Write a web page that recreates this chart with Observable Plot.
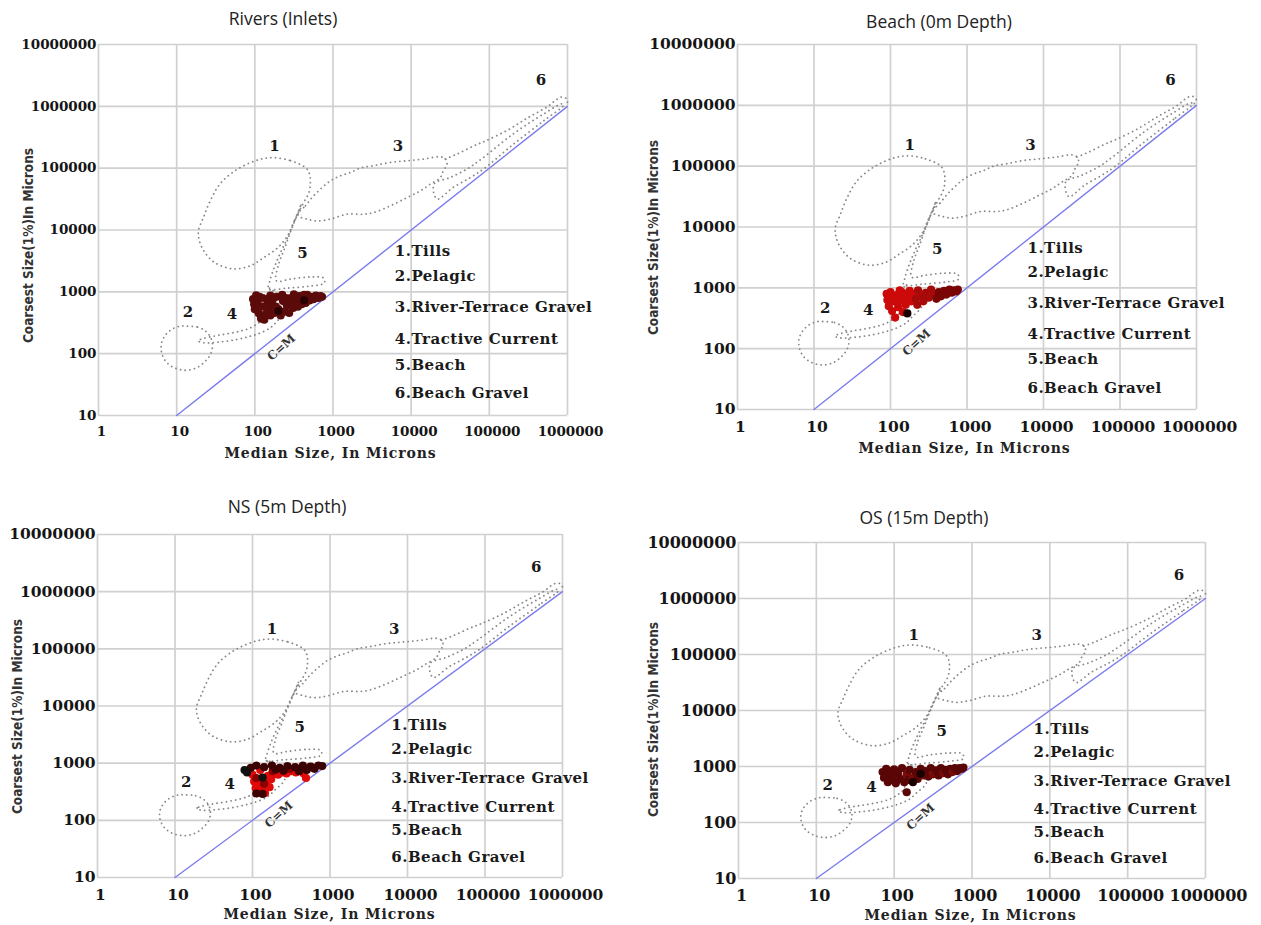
<!DOCTYPE html>
<html><head><meta charset="utf-8">
<script src="https://cdn.jsdelivr.net/npm/d3@7"></script>
<script src="https://cdn.jsdelivr.net/npm/@observablehq/plot@0.6"></script>
<style>
body{margin:0;background:#fff;}
#root{position:relative;width:1261px;height:925px;overflow:hidden;background:#fff;}
.ptitle{position:absolute;font-family:"Open Sans",sans-serif;font-size:17.5px;color:#222;white-space:nowrap;transform:translate(-50%,-50%);}
</style></head><body><div id="root"></div>
<script>
// ---------- data ----------
const xTicks = [1, 10, 100, 1000, 10000, 100000, 1000000];
const yTicks = [10, 100, 1000, 10000, 100000, 1000000, 10000000];
const panelTitles = ["Rivers (Inlets)", "Beach (0m Depth)", "NS (5m Depth)", "OS (15m Depth)"];
const xLabel = "Median Size, In Microns";
const yLabel = "Coarsest Size(1%)In Microns";
const legendNames = ["1.Tills", "2.Pelagic", "3.River-Terrace Gravel", "4.Tractive Current", "5.Beach", "6.Beach Gravel"];
const legendX = 6170;
const legendY = [4570, 1780, 556, 170, 66, 22.6];
const fieldIds = ["1", "2", "3", "4", "5", "6"];
const fieldLabelX = [178, 14, 6760, 51, 407, 457000];
const fieldLabelY = [224000, 468, 224000, 427, 4270, 2630000];
const cmLine = [[10, 10], [1000000, 1000000]];
const cmLabel = [219, 126];

// C-M field outlines (median, coarsest)
const tillsField = [[174,148000],[286,132000],[446,102000],[500,81000],[513,56000],[486,39000],[419,27500],[361,19000],[312,13200],[261,8000],[194,5100],[129,3550],[88,2650],[53,2350],[31,2950],[23,4300],[19.5,6700],[19,9700],[22,16000],[27,30000],[36,56000],[56,91000],[88,123000],[125,142000]];
const pelagicField = [[13.3,279],[18.5,269],[23.4,232],[27.1,185],[28.7,137],[27.1,98],[22.6,73],[17.4,58],[12.6,54],[9.1,60],[7.2,76],[6.4,106],[6.4,148],[7.2,200],[8.8,250],[11.2,279]];
const riverTerraceField = [[364,19100],[444,24600],[540,33500],[690,45800],[927,62500],[1245,75300],[1670,85200],[2240,100400],[3290,109400],[5420,123700],[8870,131800],[14300,140400],[23600,153000],[27400,142000],[28800,116400],[25800,90800],[23600,70600],[17600,55200],[13100,43000],[8870,33500],[5420,24600],[3290,19100],[2450,18000],[1510,18000],[927,15000],[626,14000],[467,15000],[361,16900]];
const tractiveField = [[19,160],[20.2,170],[29.8,192],[44.2,209],[65.5,232],[87.9,262],[112,316],[130,380],[144,552],[151,802],[154,1150],[220,700],[260,520],[193,336],[158,262],[118,217],[87.9,192],[59.4,170],[36.3,155],[22.2,150]];
const beachField = [[394,26500],[321,14000],[261,7440],[212,4250],[178,2520],[154,1440],[149,1110],[261,1150],[514,1240],[776,1390],[754,1680],[514,1740],[285,1610],[189,1500],[200,2720],[239,4940],[285,9300],[340,16300]];
const beachGravelField = [[891000,1050000],[501000,589000],[200000,240000],[85100,97700],[57500,70800],[34700,49000],[21400,31600],[19500,55000],[31600,70800],[52500,97700],[79400,141000],[200000,355000],[501000,759000],[851000,1100000]];
const gravelUpperEdge = [[27400,141000],[38900,170000],[63100,229000],[89100,275000],[174000,417000],[316000,661000],[562000,1000000],[708000,1260000],[832000,1410000],[955000,1350000],[1000000,1170000],[933000,1070000]];

// sample points: [median, coarsest, shade]
const riversPoints = [[95,760,"d"],[98,630,"d"],[100,525,"d"],[107,710,"d"],[112,450,"d"],[120,370,"d"],[126,575,"d"],[132,355,"d"],[138,435,"d"],[145,760,"d"],[151,500,"d"],[115,830,"d"],[126,795,"d"],[158,870,"d"],[141,600,"d"],[112,600,"d"],[158,415,"d"],[166,630,"d"],[178,455,"d"],[190,830,"d"],[200,525,"d"],[214,415,"d"],[229,710,"d"],[240,480,"d"],[257,600,"d"],[275,455,"d"],[288,795,"d"],[309,550,"d"],[331,690,"d"],[355,575,"d"],[372,850,"d"],[186,575,"d"],[224,890,"d"],[251,795,"d"],[282,660,"d"],[316,910,"d"],[398,630,"d"],[417,760,"d"],[447,660,"d"],[468,890,"d"],[501,725,"d"],[525,830,"d"],[562,760,"d"],[603,870,"d"],[646,795,"d"],[692,850,"d"],[724,830,"d"],[427,890,"d"],[380,725,"d"],[104,880,"d"],[170,760,"d"],[262,700,"d"],[340,800,"d"],[200,490,"k"],[427,725,"k"]];
const beachPoints = [[89,795,"r"],[91,630,"r"],[95,500,"r"],[100,850,"r"],[105,415,"r"],[110,600,"r"],[115,325,"r"],[120,760,"r"],[126,480,"r"],[132,910,"r"],[138,630,"r"],[145,400,"r"],[151,795,"r"],[158,525,"r"],[166,710,"r"],[178,890,"r"],[186,600,"r"],[200,795,"r"],[107,725,"r"],[123,575,"r"],[98,700,"r"],[140,850,"r"],[170,620,"r"],[214,660,"m"],[229,910,"m"],[251,725,"m"],[269,600,"m"],[288,830,"m"],[316,690,"m"],[339,935,"m"],[363,760,"m"],[224,525,"m"],[398,660,"d"],[427,850,"d"],[457,725,"d"],[501,890,"d"],[537,775,"d"],[589,935,"d"],[631,830,"d"],[676,910,"d"],[724,870,"d"],[759,935,"d"],[166,380,"k"]];
const nsPoints = [[100,630,"r"],[105,480,"r"],[110,365,"r"],[115,300,"r"],[120,415,"r"],[126,315,"r"],[132,500,"r"],[138,380,"r"],[145,300,"r"],[151,455,"r"],[158,600,"r"],[166,380,"r"],[174,525,"r"],[190,660,"r"],[214,630,"r"],[240,690,"r"],[275,660,"r"],[316,725,"r"],[363,690,"r"],[457,660,"r"],[490,550,"r"],[126,760,"r"],[93,725,"r"],[112,550,"m"],[182,725,"m"],[302,795,"m"],[417,795,"m"],[603,830,"m"],[141,435,"m"],[95,830,"d"],[112,910,"d"],[141,850,"d"],[178,910,"d"],[224,830,"d"],[282,890,"d"],[355,850,"d"],[447,910,"d"],[562,870,"d"],[708,910,"d"],[794,890,"d"],[398,725,"d"],[501,760,"d"],[631,795,"d"],[251,740,"d"],[200,775,"d"],[112,295,"d"],[135,290,"d"],[79,760,"k"],[85,690,"k"],[135,560,"k"]];
const osPoints = [[76,725,"r"],[85,600,"r"],[93,830,"r"],[107,630,"r"],[71,795,"d"],[74,630,"d"],[79,910,"d"],[83,525,"d"],[89,725,"d"],[95,575,"d"],[100,890,"d"],[105,500,"d"],[112,760,"d"],[120,600,"d"],[126,935,"d"],[135,525,"d"],[145,725,"m"],[151,575,"d"],[158,870,"d"],[174,630,"m"],[190,795,"d"],[200,600,"d"],[219,910,"d"],[234,690,"m"],[251,830,"d"],[275,660,"d"],[295,935,"d"],[316,725,"m"],[347,850,"d"],[372,690,"d"],[398,935,"d"],[427,760,"m"],[457,870,"d"],[490,725,"d"],[525,910,"d"],[562,795,"m"],[603,935,"d"],[646,830,"d"],[692,935,"d"],[741,910,"d"],[776,955,"d"],[145,347,"d"],[174,525,"k"],[219,740,"k"]];

// ---------- layout & styles ----------
const fields = [
  {pts: tillsField, closed: true},
  {pts: pelagicField, closed: true},
  {pts: riverTerraceField, closed: true},
  {pts: tractiveField, closed: true},
  {pts: beachField, closed: true},
  {pts: beachGravelField, closed: true},
  {pts: gravelUpperEdge, closed: false}
];
const panels = [
  {title: panelTitles[0], points: riversPoints, palette: {d: "#5c0b0b", k: "#2a0000", m: "#6e1010", r: "#7a1010"},
   box: {left: 0, top: 30, width: 620, height: 440}, frame: {l: 98, r: 567, t: 44, b: 415},
   titlePos: [283, 18], xlab: [330, 453], ylab: [28, 245], tick: 13.5},
  {title: panelTitles[1], points: beachPoints, palette: {r: "#cc0a0a", m: "#a80a0a", d: "#7a0505", k: "#1a0000"},
   box: {left: 620, top: 30, width: 641, height: 440}, frame: {l: 737, r: 1196, t: 44, b: 409},
   titlePos: [939, 21], xlab: [964, 448], ylab: [653, 237], tick: 15.5},
  {title: panelTitles[2], points: nsPoints, palette: {r: "#e00a0a", m: "#8b0000", d: "#3a0202", k: "#111111"},
   box: {left: 0, top: 522, width: 620, height: 403}, frame: {l: 97, r: 562, t: 534, b: 877},
   titlePos: [287, 506], xlab: [329, 914], ylab: [17, 716], tick: 15.5},
  {title: panelTitles[3], points: osPoints, palette: {r: "#951515", m: "#7a0a0a", d: "#5a0606", k: "#1a0000"},
   box: {left: 620, top: 530, width: 641, height: 395}, frame: {l: 738, r: 1205, t: 542, b: 878},
   titlePos: [924, 517], xlab: [970, 915], ylab: [653, 719], tick: 16}
];
const serif = "DejaVu Serif";
const root = document.getElementById("root");

panels.forEach(p => {
  const {box, frame} = p;
  const cx = (frame.l + frame.r) / 2, cy = (frame.t + frame.b) / 2;
  const svg = Plot.plot({
    width: box.width, height: box.height,
    marginLeft: frame.l - box.left, marginRight: box.left + box.width - frame.r,
    marginTop: frame.t - box.top, marginBottom: box.top + box.height - frame.b,
    x: {type: "log", domain: [1, 1e6]},
    y: {type: "log", domain: [10, 1e7]},
    color: {type: "identity"},
    style: {background: "transparent", overflow: "visible"},
    marks: [
      Plot.gridX(xTicks, {stroke: "#d0d0d0", strokeOpacity: 1, strokeWidth: 1.7}),
      Plot.gridY(yTicks, {stroke: "#d0d0d0", strokeOpacity: 1, strokeWidth: 1.7}),
      ...fields.map(f => Plot.line(f.pts, {x: d => d[0], y: d => d[1],
        curve: f.closed ? "catmull-rom-closed" : "catmull-rom",
        stroke: "#888", strokeWidth: 1.8, strokeDasharray: "0.1 4.6", strokeLinecap: "round"})),
      Plot.line(cmLine, {x: d => d[0], y: d => d[1], stroke: "#7b7bee", strokeWidth: 1.4}),
      Plot.text(fieldIds, {x: (d, i) => fieldLabelX[i], y: (d, i) => fieldLabelY[i],
        fontFamily: serif, fontWeight: "bold", fontSize: 15, fill: "#1a1a1a"}),
      Plot.text(["C=M"], {x: () => cmLabel[0], y: () => cmLabel[1], rotate: -42,
        fontFamily: serif, fontWeight: "bold", fontSize: 12, fill: "#333"}),
      Plot.dot(p.points, {x: d => d[0], y: d => d[1], r: 4.1, fill: d => p.palette[d[2]]}),
      Plot.text(legendNames, {x: () => legendX, y: (d, i) => legendY[i], textAnchor: "start",
        fontFamily: serif, fontWeight: "bold", fontSize: 15, fill: "#1a1a1a"}),
      Plot.axisX(xTicks, {tickFormat: d => String(d), tickSize: 0, tickPadding: 11, dx: 3,
        fontFamily: serif, fontWeight: "bold", fontSize: p.tick, fill: "#151515", label: null}),
      Plot.axisY(yTicks, {tickFormat: d => String(d), tickSize: 0, tickPadding: 2,
        fontFamily: serif, fontWeight: "bold", fontSize: p.tick, fill: "#151515", label: null}),
      Plot.text([xLabel], {frameAnchor: "bottom", textAnchor: "middle", lineAnchor: "middle",
        dx: p.xlab[0] - cx, dy: p.xlab[1] - frame.b,
        fontFamily: serif, fontWeight: "bold", fontSize: 14, fill: "#222"}),
      Plot.text([yLabel], {frameAnchor: "left", textAnchor: "middle", lineAnchor: "middle", rotate: -90,
        dx: p.ylab[0] - frame.l, dy: p.ylab[1] - cy,
        fontFamily: "Liberation Sans Narrow, DejaVu Sans Condensed, sans-serif", fontWeight: "bold", fontSize: 13.5, fill: "#333"})
    ]
  });
  d3.select(svg).selectAll("text").each(function () {
    const t = this.textContent;
    if (legendNames.includes(t)) d3.select(this).attr("letter-spacing", "0.5px");
    if (t === xLabel) d3.select(this).attr("letter-spacing", "0.9px");
  });
  svg.style.position = "absolute";
  svg.style.left = box.left + "px";
  svg.style.top = box.top + "px";
  root.appendChild(svg);
  const t = document.createElement("div");
  t.className = "ptitle";
  t.textContent = p.title;
  t.style.left = p.titlePos[0] + "px";
  t.style.top = p.titlePos[1] + "px";
  root.appendChild(t);
});
</script></body></html>
